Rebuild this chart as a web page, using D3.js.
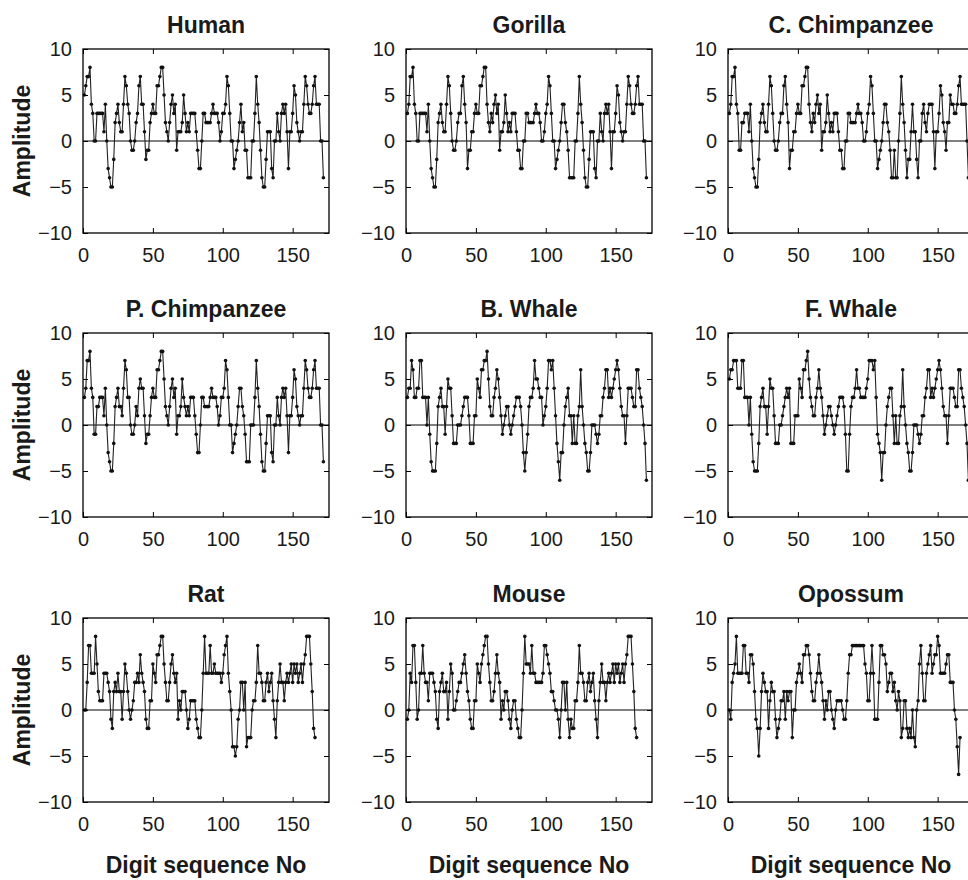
<!DOCTYPE html>
<html>
<head>
<meta charset="utf-8">
<script src="https://cdn.jsdelivr.net/npm/d3@7"></script>
<style>
    body { margin: 0; background: #ffffff; }
    svg { display: block; font-family: "Liberation Sans", Arial, Helvetica, sans-serif; }
</style>
</head>
<body>
<script>
// Panel titles, in reading order (left to right, top to bottom)
var species = ["Human", "Gorilla", "C. Chimpanzee",
               "P. Chimpanzee", "B. Whale", "F. Whale",
               "Rat", "Mouse", "Opossum"];

// Amplitude per digit (digit No 1, 2, 3 ...)
var human = [5,6,7,7,8,4,3,0,0,3, 3,3,3,3,1,4,0,-3,-4,-5, -5,-2,2,3,4,2,1,1,4,7,
    6,4,3,0,-1,-1,0,2,3,6, 7,4,4,1,-2,-1,-1,2,3,4, 3,3,6,6,7,8,8,5,2,1,
    0,2,4,5,3,4,-1,1,1,1, 2,5,3,1,2,1,3,3,3,3, 1,-1,-3,-3,0,3,3,2,2,2,
    2,3,4,3,3,3,2,0,1,3, 3,4,7,6,3,0,0,-3,-2,-1, 0,2,4,1,2,-1,-1,-4,-4,-4,
    0,0,3,7,4,2,-1,-4,-5,-5, -2,1,1,1,-3,-4,0,0,3,1, 0,3,4,3,4,1,-3,1,1,3,
    6,5,2,1,0,1,1,4,7,6, 4,3,3,4,6,7,4,4,4,0, 0,-4];

var gorilla = [3,4,7,7,8,4,3,0,0,3, 3,3,3,3,1,4,0,-3,-4,-5, -5,-2,2,3,4,2,1,1,4,7,
    6,3,0,-1,-1,0,2,3,3,6, 7,4,2,-3,-1,-1,1,1,3,4, 3,3,6,6,7,8,8,4,2,1,
    3,2,4,5,3,4,-1,1,1,2, 5,3,1,2,1,3,3,3,1,-1, -1,-3,-3,0,0,3,3,2,2,2,
    2,3,4,3,3,2,0,0,1,3, 4,7,6,3,0,0,-3,-2,-1,0, 2,4,4,2,1,-1,-4,-4,-4,-4,
    0,0,3,7,4,2,-1,-4,-5,-5, -2,1,1,1,-3,-4,0,0,3,1, 0,3,4,3,4,1,-3,1,1,3,
    6,5,2,1,0,1,1,4,7,6, 4,3,3,4,6,7,4,4,4,0, 0,-4];

var cChimp = [3,4,7,7,8,4,3,-1,-1,2, 2,3,3,3,1,4,0,-3,-4,-5, -5,-2,2,3,4,2,1,1,4,7,
    6,3,0,-1,-1,0,2,3,3,6, 7,4,2,-3,-1,-1,1,1,3,4, 3,3,6,6,7,8,8,4,2,1,
    3,2,4,5,3,4,-1,1,1,2, 5,3,1,2,1,3,3,3,1,-1, -1,-3,-3,0,0,3,3,2,2,2,
    2,3,4,3,3,2,0,0,1,3, 4,7,6,3,0,0,-3,-2,-1,0, 2,4,4,2,1,-1,-4,-4,-1,-4,
    -4,0,3,7,4,2,-1,-4,-2,-2, 1,4,1,1,-2,-4,0,0,3,4, 2,1,3,4,4,4,1,-3,1,1,
    3,6,5,2,1,-1,2,2,5,4, 4,3,3,4,6,7,4,4,4,4, 0,-4];

var pChimp = [3,4,7,7,8,4,3,-1,-1,2, 2,3,3,3,1,4,0,-3,-4,-5, -5,-2,2,3,4,2,2,1,4,7,
    6,3,3,0,-1,-1,0,2,1,4, 5,4,4,1,-2,-1,-1,1,3,4, 3,3,6,6,7,8,8,5,2,1,
    0,2,4,5,3,4,-1,1,1,2, 5,3,2,1,2,1,3,3,3,1, -1,-3,-3,0,3,3,2,2,2,2,
    3,4,3,3,3,2,0,1,3,3, 4,7,6,3,0,0,-3,-2,-1,0, 2,4,4,2,1,-1,-4,-4,-4,0,
    0,0,3,7,4,2,-1,-4,-5,-5, -2,1,1,1,-3,-4,0,0,3,1, 0,3,4,3,4,1,-3,1,1,3,
    6,5,2,1,0,1,1,4,7,6, 4,3,3,4,6,7,4,4,4,0, 0,-4];

var bWhale = [3,4,4,7,6,3,3,4,4,7, 7,3,3,3,0,3,-1,-4,-5,-5, -5,-2,2,3,4,2,2,-1,2,5,
    4,4,1,-2,-2,-2,0,0,0,1, 2,3,3,3,1,-2,-2,-2,1,1, 5,4,3,6,6,7,7,8,5,2,
    1,1,3,4,6,5,3,1,-1,0, 1,2,2,0,-1,0,1,2,3,3, 3,2,0,-3,-5,-3,-1,2,3,3,
    4,7,5,5,4,3,3,0,1,2, 4,7,7,6,7,4,1,-2,-4,-6, -3,-3,0,2,3,4,1,1,-2,1,
    -2,-2,1,2,6,2,0,-2,-3,-5, -5,-3,0,0,0,-1,-2,-1,1,1, 3,4,6,6,3,4,3,4,5,6,
    7,6,4,2,1,1,-2,1,4,4, 4,3,2,2,6,6,4,3,2,0, -2,-6];

var fWhale = [5,6,6,7,7,7,4,4,4,7, 7,3,3,3,0,3,-1,-4,-5,-5, -5,-2,2,3,4,2,2,-1,2,5,
    4,4,1,-2,-2,-2,0,0,1,2, 3,4,3,4,-2,-2,-2,1,1,1, 5,4,3,6,6,7,8,5,3,2,
    1,1,3,4,6,4,3,1,-1,0, 1,2,2,1,0,-1,0,1,2,3, 3,3,2,-1,-5,-5,-1,2,3,3,
    4,6,4,4,3,3,3,3,4,5, 7,7,7,6,7,3,-1,-2,-3,-6, -3,-3,0,2,3,4,4,1,-2,1,
    -2,-2,1,2,6,2,0,-2,-3,-5, -5,-3,0,0,0,-1,-2,-1,1,1, 3,4,6,6,3,4,3,4,5,6,
    7,6,4,2,1,1,-2,1,4,4, 4,3,2,2,6,6,4,3,2,0, -2,-6];

var rat = [0,0,3,7,7,4,4,4,8,5, 2,1,1,1,4,4,4,3,2,-1, -2,2,3,2,4,2,2,-1,2,5,
    4,2,0,-1,0,1,3,3,4,3, 6,4,3,2,-1,-2,-2,1,1,5, 4,3,6,6,7,8,8,5,3,1,
    1,3,5,6,4,3,4,-1,1,0, 2,2,2,0,-2,-1,1,1,1,1, -1,-2,-3,-3,0,4,8,4,4,4,
    7,4,4,5,4,4,4,4,3,4, 6,7,8,4,2,0,-4,-4,-5,-4, -1,0,3,3,0,3,-4,-3,-3,-3,
    0,1,1,3,7,4,4,3,1,1, 3,4,2,3,4,1,-1,-3,1,3, 5,3,3,1,3,4,3,4,5,3,
    5,4,5,3,4,5,3,5,6,8, 8,8,5,2,-2,-3];

var mouse = [-1,0,4,3,7,7,3,-1,0,4, 4,7,4,3,3,1,4,4,4,3, 2,-1,-2,2,3,4,2,2,3,-1,
    2,5,4,0,0,1,2,3,3,4, 5,6,4,2,1,-1,-2,-2,1,1, 5,4,3,5,6,7,8,8,5,3,
    1,1,2,4,6,4,3,-1,1,0, 2,2,1,-1,-2,0,1,1,-1,-2, -3,-3,0,4,8,5,5,5,4,7,
    4,4,3,3,3,3,3,4,7,7, 6,5,4,2,2,1,0,0,-1,-3, 0,3,3,0,3,-1,-3,-1,-2,-2,
    1,1,3,7,4,4,3,1,1,3, 4,2,3,4,1,-1,-3,1,3,5, 3,3,1,3,4,3,4,5,3,5,
    4,5,3,4,5,3,5,6,8,8, 8,5,2,-2,-3];

var opossum = [0,-1,3,4,5,8,4,4,4,4, 7,7,4,4,3,6,6,5,2,-1, -2,-5,-2,2,4,3,2,2,-2,1,
    3,2,2,-1,-3,-2,-1,1,1,2, -1,2,1,2,2,-3,0,0,3,4, 5,4,3,6,6,7,7,6,4,2,
    1,1,3,4,6,4,3,1,-1,1, 0,2,2,0,-1,-2,0,1,1,1, 1,0,-1,-1,1,4,6,6,7,7,
    7,7,7,7,7,7,7,5,4,1, 1,4,7,4,-1,-1,-1,3,7,7, 6,6,5,2,3,4,4,2,3,1,
    0,2,1,-3,-2,1,1,-2,-3,-2, -3,0,-3,-4,0,1,5,7,4,1, 1,4,5,6,7,4,5,6,6,8,
    7,4,4,4,4,5,6,6,3,3, 3,0,-1,-4,-7,-3];

var seriesList = [human, gorilla, cChimp, pChimp, bWhale, fWhale, rat, mouse, opossum];

// Axis ticks
var xTicks = [0, 50, 100, 150];
var yTicks = [-10, -5, 0, 5, 10];
var xLabel = "Digit sequence No";
var yLabel = "Amplitude";

// Layout of the 3 x 3 grid
var width = 968;
var height = 880;
var colLeft = [83, 406, 728];
var rowTop = [49, 333, 618];
var plotW = 246;
var plotH = 184;
var tickLen = 5;

var svg = d3.select("body").
    append("svg").
    attr("width", width).
    attr("height", height);

svg.append("rect").
    attr("width", width).
    attr("height", height).
    attr("fill", "#ffffff");

// Same scales for every panel (each panel gets its own group)
var xScale = d3.scaleLinear().domain([0, 176]).range([0, plotW]);
var yScale = d3.scaleLinear().domain([-10, 10]).range([plotH, 0]);

var line = d3.line().
    x(function(d, i) { return xScale(i + 1); }).
    y(function(d) { return yScale(d); });

seriesList.forEach(function(values, k) {
    var col = k % 3;
    var row = Math.floor(k / 3);
    var g = svg.append("g").
        attr("transform", "translate(" + colLeft[col] + "," + rowTop[row] + ")");

    // zero reference line
    g.append("line").
        attr("x1", 0).
        attr("x2", plotW).
        attr("y1", yScale(0)).
        attr("y2", yScale(0)).
        attr("stroke", "#000").
        attr("stroke-width", 1);

    // the series, line then markers
    g.append("path").
        datum(values).
        attr("d", line).
        attr("fill", "none").
        attr("stroke", "#222").
        attr("stroke-width", 1.1);

    g.selectAll("circle").
        data(values).
        enter().
        append("circle").
        attr("cx", function(d, i) { return xScale(i + 1); }).
        attr("cy", function(d) { return yScale(d); }).
        attr("r", 1.8).
        attr("fill", "#111");

    // axes, ticks pointing inside, mirrored on top and right
    var axB = g.append("g").
        attr("transform", "translate(0," + plotH + ")").
        call(d3.axisBottom(xScale).tickValues(xTicks).tickSizeInner(-tickLen).tickSizeOuter(0).tickPadding(15));
    var axL = g.append("g").
        call(d3.axisLeft(yScale).tickValues(yTicks).tickSizeInner(-tickLen).tickSizeOuter(0).tickPadding(11));
    g.append("g").
        call(d3.axisTop(xScale).tickValues(xTicks).tickSizeInner(-tickLen).tickSizeOuter(0).tickFormat(""));
    g.append("g").
        attr("transform", "translate(" + plotW + ",0)").
        call(d3.axisRight(yScale).tickValues(yTicks).tickSizeInner(-tickLen).tickSizeOuter(0).tickFormat(""));

    g.selectAll(".domain").remove();
    g.selectAll(".tick line").attr("stroke", "#000");
    [axB, axL].forEach(function(ax) {
        ax.attr("font-family", null).
            attr("font-size", null).
            selectAll("text").
            attr("font-size", "20px").
            attr("fill", "#1a1a1a");
    });

    // box
    g.append("rect").
        attr("width", plotW).
        attr("height", plotH).
        attr("fill", "none").
        attr("stroke", "#000").
        attr("stroke-width", 1.3);

    // title
    g.append("text").
        attr("x", plotW / 2).
        attr("y", -16).
        attr("text-anchor", "middle").
        attr("font-size", "23px").
        attr("font-weight", "bold").
        attr("fill", "#1a1a1a").
        text(species[k]);

    // axis labels, only on outer panels
    if (col === 0) {
        g.append("text").
            attr("transform", "translate(" + (30 - colLeft[0]) + "," + (plotH / 2) + ") rotate(-90)").
            attr("text-anchor", "middle").
            attr("font-size", "23px").
            attr("font-weight", "bold").
            attr("fill", "#1a1a1a").
            text(yLabel);
    }
    if (row === 2) {
        g.append("text").
            attr("x", plotW / 2).
            attr("y", plotH + 71).
            attr("text-anchor", "middle").
            attr("font-size", "23px").
            attr("font-weight", "bold").
            attr("fill", "#1a1a1a").
            text(xLabel);
    }
});
</script>
</body>
</html>
